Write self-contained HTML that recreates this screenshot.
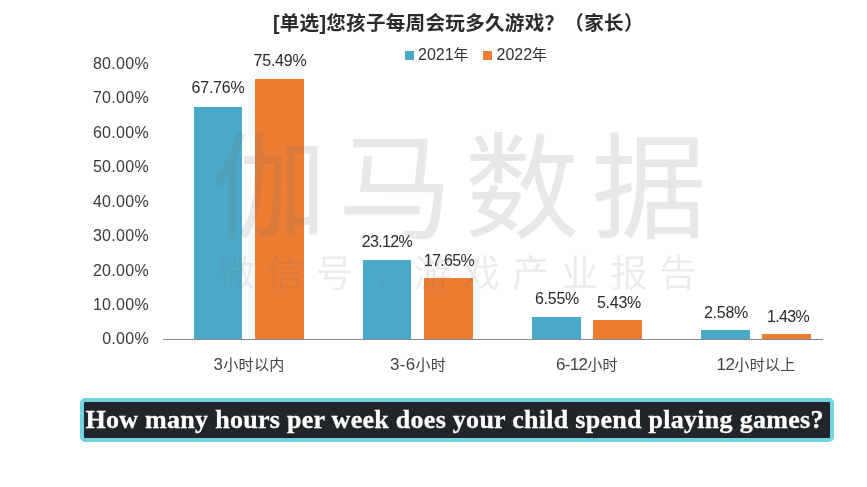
<!DOCTYPE html>
<html><head><meta charset="utf-8">
<style>
html,body{margin:0;padding:0;background:#fff;}
#c{position:relative;width:867px;height:487px;overflow:hidden;background:#fff;font-family:"Liberation Sans","Noto Sans CJK SC",sans-serif;color:#333;}
.abs{position:absolute;white-space:nowrap;}
.title{left:273px;top:9px;font-size:19.6px;letter-spacing:0.25px;font-weight:bold;color:#2b2b2b;line-height:28px;}
.yl{left:59px;width:90px;text-align:right;font-size:16px;letter-spacing:0.3px;color:#3a3a3a;line-height:20px;}
.bar{position:absolute;}
.blue{background:#4aa9c9;}
.or{background:#ed7d31;}
.val{font-size:16px;letter-spacing:-0.25px;color:#2a2a2a;margin-top:1px;width:80px;text-align:center;line-height:20px;}
.xl{font-size:15px;color:#444;width:140px;text-align:center;line-height:20px;top:355px;letter-spacing:0.3px;}
.wm1{left:211px;top:124px;font-size:115px;color:rgba(110,110,110,0.16);letter-spacing:11.8px;line-height:130px;z-index:5;}
.wm2{left:217.5px;top:245.5px;font-size:37px;color:rgba(110,110,110,0.14);letter-spacing:12.1px;line-height:50px;z-index:5;}
.axis{left:163px;top:339px;width:660px;height:1px;background:#8a8a8a;}
.cap{left:80px;top:398px;width:746px;height:36px;border:4px solid #72d2df;border-radius:5px;background:#212529;color:#fff;font-family:"Liberation Serif",serif;font-weight:bold;font-size:26px;letter-spacing:0.28px;line-height:35px;text-align:left;text-indent:1.5px;box-sizing:content-box;-webkit-text-stroke:0.3px #fff;}
.xl b{font-weight:normal;font-size:17px;}
.lg{font-size:15px;line-height:20px;color:#333;}
.lg b{font-weight:normal;font-size:16px;}
</style></head><body>
<div id="c">
<div class="abs wm1">伽马数据</div>
<div class="abs wm2">微信号<span style="font-family:'Noto Sans CJK TC',sans-serif">：</span>游戏产业报告</div>
<div class="abs title">[单选]您孩子每周会玩多久游戏？（家长）</div>
<div class="abs" style="left:405px;top:51px;width:9px;height:9px;background:#4aa9c9"></div>
<div class="abs lg" style="left:418px;top:45px;"><b>2021</b>年</div>
<div class="abs" style="left:482.5px;top:51px;width:9px;height:9px;background:#ed7d31"></div>
<div class="abs lg" style="left:496.5px;top:45px;"><b>2022</b>年</div>

<div class="abs yl" style="top:54px">80.00%</div>
<div class="abs yl" style="top:88px">70.00%</div>
<div class="abs yl" style="top:123px">60.00%</div>
<div class="abs yl" style="top:157px">50.00%</div>
<div class="abs yl" style="top:192px">40.00%</div>
<div class="abs yl" style="top:226px">30.00%</div>
<div class="abs yl" style="top:261px">20.00%</div>
<div class="abs yl" style="top:295px">10.00%</div>
<div class="abs yl" style="top:329px">0.00%</div>

<div class="bar blue" style="left:194px;top:107px;width:48px;height:233px"></div>
<div class="bar or" style="left:255px;top:79px;width:49px;height:261px"></div>
<div class="bar blue" style="left:363px;top:260px;width:48px;height:80px"></div>
<div class="bar or" style="left:424px;top:278px;width:49px;height:62px"></div>
<div class="bar blue" style="left:532px;top:317px;width:49px;height:23px"></div>
<div class="bar or" style="left:593px;top:320px;width:49px;height:20px"></div>
<div class="bar blue" style="left:701px;top:330px;width:49px;height:10px"></div>
<div class="bar or" style="left:762px;top:334px;width:49px;height:6px"></div>
<div class="abs axis"></div>

<div class="abs val" style="left:178px;top:77px">67.76%</div>
<div class="abs val" style="left:240px;top:50px">75.49%</div>
<div class="abs val" style="left:347px;top:231px;letter-spacing:-0.65px">23.12%</div>
<div class="abs val" style="left:409px;top:250px;letter-spacing:-0.65px">17.65%</div>
<div class="abs val" style="left:517px;top:288px">6.55%</div>
<div class="abs val" style="left:579px;top:292px">5.43%</div>
<div class="abs val" style="left:686px;top:302px">2.58%</div>
<div class="abs val" style="left:748px;top:306px;letter-spacing:-0.65px">1.43%</div>

<div class="abs xl" style="left:179px"><b>3</b>小时以内</div>
<div class="abs xl" style="left:348px"><b>3-6</b>小时</div>
<div class="abs xl" style="left:517px"><b style="letter-spacing:-0.7px">6-12</b>小时</div>
<div class="abs xl" style="left:686px"><b style="letter-spacing:-0.5px">12</b>小时以上</div>

<div class="abs cap">How many hours per week does your child spend playing games?</div>
</div>
</body></html>
